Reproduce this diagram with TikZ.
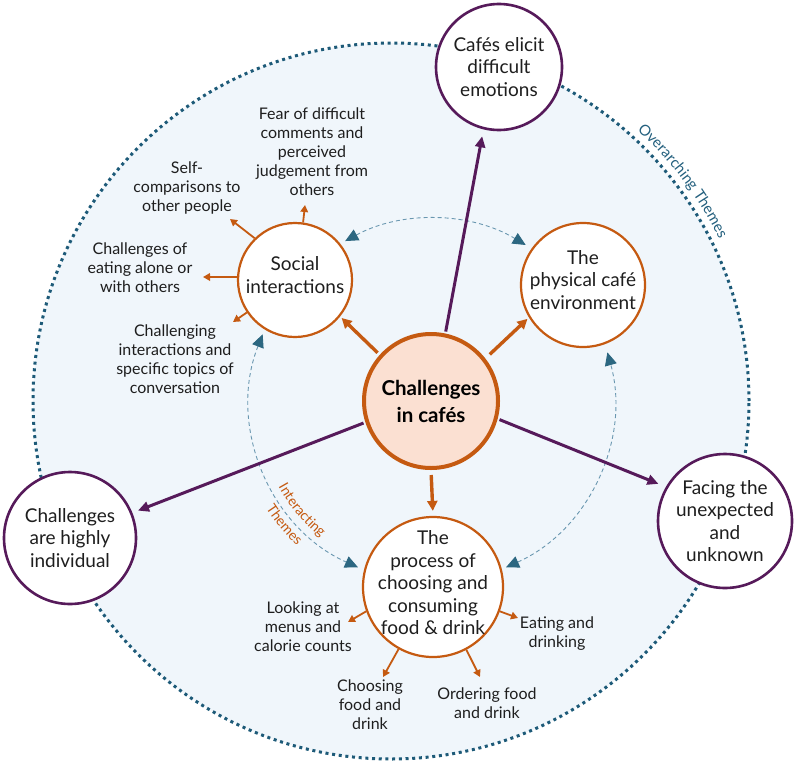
\documentclass[tikz,border=0pt]{standalone}
\usepackage{fontspec}
\setmainfont{Lato}
\newfontfamily\spacedfont[LetterSpace=10]{Lato}
\usetikzlibrary{arrows.meta,decorations.text,calc}
\definecolor{orng}{HTML}{C55A11}
\definecolor{purp}{HTML}{561A5A}
\definecolor{peach}{HTML}{FBE0D2}
\definecolor{bgblue}{HTML}{F0F6FB}
\definecolor{dotteal}{HTML}{1D5A78}
\definecolor{dashteal}{HTML}{6A97B0}
\definecolor{tipteal}{HTML}{2C6781}
\definecolor{txt}{HTML}{1E1E1E}
\definecolor{overtxt}{HTML}{24607E}
\begin{document}
\begin{tikzpicture}[x=1pt,y=1pt,
  theme/.style={circle, draw=orng, line width=2.2pt, fill=white, inner sep=0pt},
  overtheme/.style={circle, draw=purp, line width=2.6pt, fill=white, inner sep=0pt},
  ttext/.style={align=center, font=\fontsize{19}{22.5}\selectfont, text=txt, inner sep=0pt},
  sub/.style={align=center, font=\fontsize{16}{19}\selectfont, text=txt, inner sep=0pt},
  bigarr/.style={draw=orng, line width=3.4pt, -{Triangle[length=10pt,width=10pt]}},
  purarr/.style={draw=purp, line width=3pt, -{Triangle[length=11pt,width=10pt]}},
  smallarr/.style={draw=orng, line width=1.8pt, -{Triangle[length=7pt,width=7.5pt]}},
  ringarc/.style={draw=dashteal, line width=0.9pt, dash pattern=on 4pt off 3pt,
     {Triangle[length=13pt,width=12pt,color=tipteal]}-{Triangle[length=13pt,width=12pt,color=tipteal]}},
]
\path[use as bounding box] (0,0) rectangle (794,-768);

% big overarching circle
\node[circle, minimum size=716pt, inner sep=0pt, fill=bgblue, draw=dotteal,
      line width=3pt, dash pattern=on 3pt off 3.7pt] (outer) at (391,-401) {};
\coordinate (BC) at (391,-401);
\coordinate (RC) at (432,-401);

% Overarching Themes text
\path[decorate, decoration={text along path, text align=center,
   text={|\fontsize{15}{17}\selectfont\color{overtxt}|Overarching Themes}}]
   ($(BC)+(57:366pt)$) arc[start angle=57, end angle=17, radius=366pt];

% interacting ring arcs
\draw[ringarc] ($(RC)+(118.5:182pt)$) arc[start angle=118.5, end angle=59, radius=182pt];
\draw[ringarc] ($(RC)+(158.5:182pt)$) arc[start angle=158.5, end angle=246, radius=182pt];
\draw[ringarc] ($(RC)+(294:182pt)$) arc[start angle=294, end angle=375.5, radius=182pt];

% Interacting Themes text
\path[decorate, decoration={text along path, text align=center,
   text={|\fontsize{14}{16}\selectfont\color{orng}|Interacting}}]
   ($(RC)+(195:176pt)$) arc[start angle=195, end angle=245, radius=176pt];
\path[decorate, decoration={text along path, text align=center,
   text={|\spacedfont\fontsize{14}{16}\selectfont\color{orng}|Themes}}]
   ($(RC)+(195:198pt)$) arc[start angle=195, end angle=245, radius=198pt];

% theme nodes
\node[overtheme, minimum size=126pt, label={[ttext]center:{Cafés elicit\\difficult\\emotions}}] (cafes) at (499,-67) {};
\node[overtheme, minimum size=132pt, label={[ttext]center:{Challenges\\are highly\\individual}}] (indiv) at (70,-538) {};
\node[overtheme, minimum size=134pt, label={[ttext]center:{Facing the\\unexpected\\and\\unknown}}] (unexp) at (725,-521) {};
\node[theme, minimum size=114pt, label={[ttext, yshift=5pt]center:{Social\\interactions}}] (social) at (295,-280) {};
\node[theme, minimum size=124pt, label={[ttext, yshift=5pt]center:{The\\physical café\\environment}}] (phys) at (583,-285) {};
\node[theme, minimum size=140pt, label={[ttext, yshift=4pt]center:{The\\process of\\choosing and\\consuming\\food \& drink}}] (proc) at (433,-587) {};
\node[circle, draw=orng, fill=peach, line width=4pt, minimum size=134pt, inner sep=0pt,
      label={[align=center, inner sep=0pt, font=\bfseries\fontsize{20.5}{27}\selectfont]center:{Challenges\\in cafés}}] (core) at (431,-401) {};

% main arrows
\draw[purarr, shorten <=2pt, shorten >=7pt] (core.78) -- (cafes.256);
\draw[purarr, shorten <=2pt, shorten >=6pt] (core.198) -- (indiv.22);
\draw[purarr, shorten <=2pt, shorten >=8pt] (core.-15) -- (unexp.150);
\draw[bigarr, shorten <=3pt, shorten >=2pt] (core.138) -- (social.321);
\draw[bigarr, shorten <=6pt, shorten >=2pt] (core.38) -- (phys.211);
\draw[bigarr, shorten <=5pt, shorten >=5pt] (core.270) -- (proc.90);

% sub labels
\node[sub] (fear) at (312,-152) {Fear of difficult\\comments and\\perceived\\judgement from\\others};
\node[sub] (selfc) at (187,-188) {Self-\\comparisons to\\other people};
\node[sub] (alone) at (140,-268) {Challenges of\\eating alone or\\with others};
\node[sub] (convo) at (175,-359) {Challenging\\interactions and\\specific topics of\\conversation};
\node[sub] (menus) at (303,-627) {Looking at\\menus and\\calorie counts};
\node[sub] (eating) at (557,-634) {Eating and\\drinking};
\node[sub] (choose) at (370,-705) {Choosing\\food and\\drink};
\node[sub] (order) at (487,-703) {Ordering food\\and drink};

% small arrow tips
\coordinate (tfear) at (305,-205);
\coordinate (tself) at (230,-219);
\coordinate (talone) at (203,-277);
\coordinate (tconvo) at (233,-322);
\coordinate (tmenus) at (348,-622);
\coordinate (teat) at (518,-618);
\coordinate (tchoose) at (383,-677);
\coordinate (torder) at (480,-677);

\draw[smallarr] (social.82) -- (tfear);
\draw[smallarr] (social.134) -- (tself);
\draw[smallarr] (social.177) -- (talone);
\draw[smallarr] (social.214) -- (tconvo);
\draw[smallarr] (proc.200) -- (tmenus);
\draw[smallarr] (proc.340) -- (teat);
\draw[smallarr] (proc.241) -- (tchoose);
\draw[smallarr] (proc.298) -- (torder);
\end{tikzpicture}
\end{document}
